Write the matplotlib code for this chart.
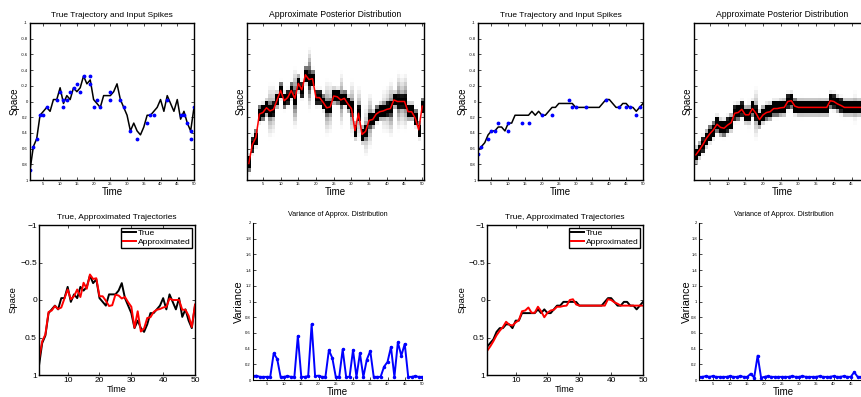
import numpy as np
import matplotlib
matplotlib.use('Agg')
import matplotlib.pyplot as plt
from matplotlib.colors import Normalize

plt.rcParams['font.family'] = ['Liberation Sans', 'DejaVu Sans']

time = np.arange(1, 51)

# ---- run A (left pair of columns) ----
true_a = [0.875, 0.575, 0.475, 0.175, 0.125, 0.075, 0.125, -0.025, -0.025, -0.175,
          0.025, -0.075, -0.025, -0.175, -0.125, -0.175, -0.325, -0.225, -0.275, -0.025,
          0.025, 0.075, -0.075, -0.075, -0.075, -0.125, -0.225, -0.025, 0.075, 0.175,
          0.375, 0.275, 0.375, 0.425, 0.325, 0.175, 0.175, 0.125, 0.075, -0.025,
          0.125, -0.075, 0.025, 0.125, -0.025, 0.225, 0.125, 0.275, 0.375, 0.075]
approx_a = [0.79, 0.55, 0.46, 0.16, 0.14, 0.08, 0.12, 0.10, -0.02, -0.14,
            -0.01, -0.05, -0.14, -0.04, -0.23, -0.15, -0.34, -0.28, -0.29, -0.05,
            -0.05, 0.01, 0.08, 0.07, -0.07, -0.06, -0.02, -0.04, 0.03, 0.09,
            0.37, 0.15, 0.42, 0.38, 0.24, 0.23, 0.16, 0.13, 0.12, 0.10,
            0.09, -0.02, 0.0, 0.0, 0.0, 0.13, 0.13, 0.21, 0.36, 0.06]
var_a = [0.05, 0.055, 0.04, 0.04, 0.04, 0.04, 0.34, 0.27, 0.04, 0.04,
         0.05, 0.04, 0.04, 0.56, 0.04, 0.04, 0.05, 0.71, 0.05, 0.055,
         0.04, 0.04, 0.38, 0.28, 0.04, 0.04, 0.39, 0.04, 0.04, 0.38,
         0.04, 0.34, 0.04, 0.26, 0.37, 0.04, 0.04, 0.04, 0.17, 0.23,
         0.42, 0.04, 0.48, 0.31, 0.46, 0.04, 0.04, 0.05, 0.04, 0.04]
spike_t_a = [1, 2, 3, 4, 5, 6, 9, 10, 11, 11, 12, 13, 14, 15, 16, 17, 19, 19, 20,
             21, 22, 25, 25, 28, 29, 31, 33, 36, 37, 38, 42, 46, 47, 48, 49, 49, 50]
spike_y_a = [0.875, 0.575, 0.475, 0.175, 0.175, 0.075, -0.025, -0.125, 0.075, -0.025,
             -0.025, -0.125, -0.175, -0.225, -0.125, -0.325, -0.325, -0.225, 0.075,
             -0.025, 0.075, -0.125, -0.025, -0.025, 0.075, 0.375, 0.475, 0.275, 0.175,
             0.175, -0.025, 0.175, 0.175, 0.275, 0.475, 0.375, 0.075]

# ---- run B (right pair of columns) ----
true_b = [0.625, 0.575, 0.525, 0.425, 0.375, 0.375, 0.325, 0.325, 0.375, 0.275,
          0.275, 0.175, 0.175, 0.175, 0.175, 0.175, 0.125, 0.175, 0.125, 0.175,
          0.175, 0.125, 0.075, 0.075, 0.025, 0.025, 0.025, 0.025, 0.025, 0.075,
          0.075, 0.075, 0.075, 0.075, 0.075, 0.075, 0.075, 0.025, -0.025, -0.025,
          0.025, 0.075, 0.075, 0.025, 0.025, 0.075, 0.075, 0.125, 0.075, 0.025]
approx_b = [0.68, 0.62, 0.55, 0.47, 0.41, 0.36, 0.29, 0.33, 0.34, 0.30,
            0.27, 0.15, 0.14, 0.10, 0.17, 0.17, 0.09, 0.15, 0.23, 0.17,
            0.14, 0.13, 0.09, 0.09, 0.08, 0.075, 0.0, -0.01, 0.06, 0.075,
            0.075, 0.075, 0.075, 0.075, 0.075, 0.075, 0.075, 0.075, -0.01, 0.0,
            0.03, 0.05, 0.075, 0.075, 0.075, 0.075, 0.075, 0.075, 0.075, 0.075]
var_b = [0.04, 0.04, 0.05, 0.04, 0.05, 0.04, 0.04, 0.04, 0.04, 0.05,
         0.04, 0.04, 0.05, 0.04, 0.04, 0.08, 0.03, 0.31, 0.03, 0.04,
         0.05, 0.04, 0.04, 0.04, 0.04, 0.04, 0.04, 0.05, 0.04, 0.04,
         0.05, 0.04, 0.04, 0.04, 0.04, 0.05, 0.04, 0.04, 0.04, 0.05,
         0.04, 0.04, 0.05, 0.04, 0.04, 0.10, 0.04, 0.04, 0.05, 0.04]
spike_t_b = [1, 2, 4, 5, 6, 7, 10, 10, 14, 16, 20, 23, 28, 29, 30, 33, 39, 43, 45, 46, 48, 49]
spike_y_b = [0.675, 0.575, 0.475, 0.375, 0.375, 0.275, 0.375, 0.275, 0.275, 0.275, 0.175,
             0.175, -0.025, 0.075, 0.075, 0.075, -0.025, 0.075, 0.075, 0.075, 0.175, 0.075]

space_ticks = [-1, -0.8, -0.6, -0.4, -0.2, 0, 0.2, 0.4, 0.6, 0.8, 1]
space_labels = ['-1', '-0.8', '-0.6', '-0.4', '-0.2', '0', '0.2', '0.4', '0.6', '0.8', '1']
coarse_ticks = [-1, -0.5, 0, 0.5, 1]
coarse_labels = ['\u22121', '\u22120.5', '0', '0.5', '1']
var_ticks = [0, 0.2, 0.4, 0.6, 0.8, 1, 1.2, 1.4, 1.6, 1.8, 2]
var_labels = ['0', '0.2', '0.4', '0.6', '0.8', '1', '1.2', '1.4', '1.6', '1.8', '2']
n_bins = 40

W, H = 862, 397
fig = plt.figure(figsize=(W / 100, H / 100), dpi=100)


def px_axes(x0, y0, x1, y1):
    return fig.add_axes([x0 / W, 1 - y1 / H, (x1 - x0) / W, (y1 - y0) / H])


def boxed(ax, labelsize):
    ax.tick_params(direction='in', top=True, right=True, length=2, width=0.5,
                   labelsize=labelsize, pad=1.5)
    for s in ax.spines.values():
        s.set_linewidth(1.0)


def spikes_panel(ax, true, st, sy, lx):
    ax.plot(time, true, color='black', lw=1.1)
    ax.plot(st, sy, '.', color='blue', ms=3.5)
    ax.set_xlim(1, 50)
    ax.set_ylim(1, -1)
    ax.set_xticks(range(5, 51, 5))
    ax.set_yticks(space_ticks)
    ax.set_yticklabels(space_labels)
    boxed(ax, 3.0)
    ax.set_title('True Trajectory and Input Spikes', fontsize=6.0, pad=4)
    ax.set_ylabel('Space', fontsize=7)
    ax.set_xlabel('Time', fontsize=7)
    ax.yaxis.set_label_coords(lx, 0.5)
    ax.xaxis.set_label_coords(0.5, -0.045)


def posterior_panel(ax, approx, var, lx):
    # each column: a sharp core around the posterior mean plus a broad part
    # whose weight follows the variance shown in the panel below
    mean = np.array(approx)[None, :]
    w = np.clip(np.array(var), 0, 0.9)[None, :]
    edges = np.linspace(-1, 1, n_bins + 1)
    centers = ((edges[:-1] + edges[1:]) / 2)[:, None]
    core = np.exp(-(centers - mean) ** 2 / (2 * 0.04 ** 2))
    broad = np.exp(-(centers - mean) ** 2 / (2 * 0.17 ** 2))
    core = core / core.sum(axis=0, keepdims=True)
    broad = broad / broad.sum(axis=0, keepdims=True)
    grid = (1 - w) * core + w * broad
    ax.imshow(grid, cmap='gray_r', norm=Normalize(0.004, 0.1, clip=True),
              extent=(0.5, 50.5, 1, -1), aspect='auto', interpolation='nearest')
    ax.plot(time, approx, color='red', lw=1.1)
    ax.set_xlim(0.5, 50.5)
    ax.set_ylim(1, -1)
    ax.set_xticks(range(5, 51, 5))
    ax.set_yticks(space_ticks)
    ax.set_yticklabels([])
    boxed(ax, 3.0)
    ax.set_title('Approximate Posterior Distribution', fontsize=6.2, pad=4)
    ax.set_ylabel('Space', fontsize=7)
    ax.set_xlabel('Time', fontsize=7)
    ax.yaxis.set_label_coords(lx, 0.5)
    ax.xaxis.set_label_coords(0.5, -0.045)


def compare_panel(ax, true, approx, lx):
    ax.plot(time, true, color='black', lw=1.4, label='True')
    ax.plot(time, approx, color='red', lw=1.4, label='Approximated')
    ax.set_xlim(1, 50)
    ax.set_ylim(1, -1)
    ax.set_xticks(range(10, 51, 10))
    ax.set_yticks(coarse_ticks)
    ax.set_yticklabels(coarse_labels)
    boxed(ax, 6.0)
    ax.set_title('True, Approximated Trajectories', fontsize=6.0, pad=4)
    ax.set_ylabel('Space', fontsize=6.8)
    ax.set_xlabel('Time', fontsize=6.5)
    ax.yaxis.set_label_coords(lx, 0.5)
    ax.xaxis.set_label_coords(0.5, -0.07)
    leg = ax.legend(loc='upper right', fontsize=6.1, handlelength=1.6, handletextpad=0.2,
                    borderpad=0.2, labelspacing=0.15, borderaxespad=0.3, fancybox=False,
                    framealpha=1)
    leg.get_frame().set_edgecolor('black')
    leg.get_frame().set_linewidth(1.0)


def variance_panel(ax, var, lx):
    ax.plot(time, var, color='blue', lw=1.4, marker='.', ms=3)
    ax.set_xlim(1, 50)
    ax.set_ylim(0, 2)
    ax.set_xticks(range(5, 51, 5))
    ax.set_yticks(var_ticks)
    ax.set_yticklabels(var_labels)
    ax.tick_params(direction='in', length=2, width=0.5, labelsize=3.0, pad=1.5)
    ax.spines['top'].set_visible(False)
    ax.spines['right'].set_visible(False)
    ax.spines['left'].set_linewidth(0.8)
    ax.spines['bottom'].set_linewidth(0.8)
    ax.set_title('Variance of Approx. Distribution', fontsize=5.1, pad=5)
    ax.set_ylabel('Variance', fontsize=7.8)
    ax.set_xlabel('Time', fontsize=7)
    ax.yaxis.set_label_coords(lx, 0.5)
    ax.xaxis.set_label_coords(0.5, -0.045)


spikes_panel(px_axes(30, 23, 194, 180), true_a, spike_t_a, spike_y_a, -0.064)
posterior_panel(px_axes(247, 23, 424, 180), approx_a, var_a, -0.008)
spikes_panel(px_axes(478, 23, 643, 180), true_b, spike_t_b, spike_y_b, -0.065)
posterior_panel(px_axes(694, 23, 871, 180), approx_b, var_b, -0.008)

compare_panel(px_axes(39, 225, 195, 375), true_a, approx_a, -0.138)
variance_panel(px_axes(253, 223, 422, 380), var_a, -0.053)
compare_panel(px_axes(487, 225, 643, 375), true_b, approx_b, -0.133)
variance_panel(px_axes(699, 223, 868, 380), var_b, -0.044)

fig.savefig('out.png', dpi=100)
